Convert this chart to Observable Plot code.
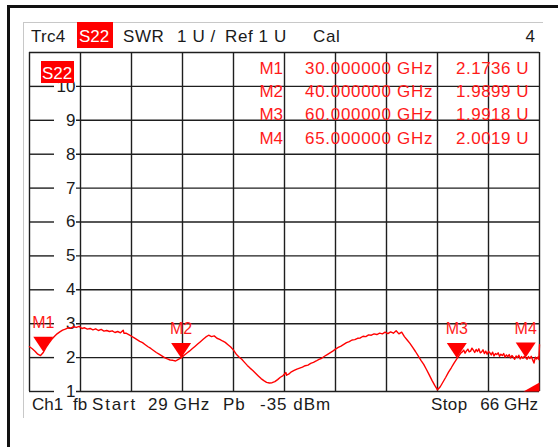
<!DOCTYPE html>
<html>
<head>
<meta charset="utf-8">
<script src="https://cdn.jsdelivr.net/npm/d3@7"></script>
<script src="https://cdn.jsdelivr.net/npm/@observablehq/plot@0.6"></script>
<style>
  html, body { margin: 0; padding: 0; background: #fff; }
  #wrap { position: relative; width: 558px; height: 447px; overflow: hidden; background: #fff;
          font-family: "Liberation Sans", Arial, sans-serif; }
  #wrap svg { position: absolute; left: 0; top: 0; }
  .t { position: absolute; white-space: pre; line-height: 1; font-size: 17px; color: #1a1a1a; }
  .red { color: #ff1a1a; }
  .box { position: absolute; background: #ff0000; }
  .ln { position: absolute; }
</style>
</head>
<body>
<div id="wrap"></div>
<script>
// ---- data ----
const freq = [29.0,29.2,29.4,29.6,29.8,30.0,30.2,30.4,30.6,30.8,31.0,31.2,31.4,31.6,31.8,32.0,32.2,32.4,32.6,32.8,
  33.0,33.2,33.4,33.6,33.8,34.0,34.2,34.4,34.6,34.8,35.0,35.2,35.4,35.6,35.8,35.85,36.0,36.2,36.4,36.6,36.8,
  37.0,37.2,37.4,37.6,37.8,38.0,38.2,38.4,38.6,38.8,39.0,39.2,39.4,39.6,39.8,40.0,40.2,40.4,40.6,40.8,
  41.0,41.2,41.4,41.6,41.8,42.0,42.2,42.4,42.6,42.8,43.0,43.2,43.4,43.6,43.8,44.0,44.2,44.4,44.6,44.8,
  45.0,45.2,45.4,45.6,45.8,46.0,46.2,46.4,46.6,46.8,47.0,47.2,47.4,47.6,47.65,47.8,48.0,48.2,48.4,48.6,48.8,
  49.0,49.2,49.4,49.6,49.8,50.0,50.2,50.4,50.6,50.8,51.0,51.2,51.4,51.6,51.8,52.0,52.2,52.4,52.6,52.8,
  53.0,53.2,53.4,53.6,53.8,54.0,54.2,54.4,54.6,54.8,55.0,55.2,55.4,55.6,55.8,56.0,56.2,56.4,56.6,56.8,
  57.0,57.2,57.4,57.6,57.8,58.0,58.2,58.4,58.6,58.8,59.0,59.2,59.4,59.6,59.8,
  60.0,60.1,60.2,60.3,60.4,60.5,60.6,60.7,60.8,60.9,61.0,61.1,61.2,61.3,61.4,61.5,61.6,61.7,61.8,61.9,
  62.0,62.1,62.2,62.3,62.4,62.5,62.6,62.7,62.8,62.9,63.0,63.1,63.2,63.3,63.4,63.5,63.6,63.7,63.8,63.9,
  64.0,64.1,64.2,64.3,64.4,64.5,64.6,64.7,64.8,64.9,65.0,65.1,65.2,65.3,65.4,65.5,65.6,65.7,65.8,65.9,
  65.95,66.0];
const swr = [2.32,2.26,2.19,2.10,2.06,2.15,2.30,2.42,2.53,2.62,2.70,2.76,2.81,2.84,2.88,2.87,2.91,2.89,2.92,2.86,
  2.88,2.84,2.86,2.82,2.85,2.80,2.83,2.78,2.80,2.77,2.79,2.74,2.77,2.73,2.81,2.72,2.72,2.68,2.63,2.58,2.53,
  2.48,2.44,2.38,2.32,2.27,2.21,2.15,2.10,2.05,2.00,1.96,1.93,1.92,1.90,1.95,1.99,2.06,2.13,2.19,2.26,
  2.33,2.40,2.47,2.54,2.61,2.66,2.62,2.64,2.57,2.54,2.49,2.45,2.38,2.31,2.22,2.10,2.02,1.95,1.86,1.77,
  1.69,1.62,1.54,1.46,1.38,1.32,1.27,1.25,1.26,1.29,1.35,1.42,1.47,1.56,1.48,1.51,1.58,1.62,1.66,1.69,1.72,
  1.76,1.78,1.83,1.86,1.90,1.95,1.98,2.04,2.09,2.14,2.19,2.25,2.30,2.34,2.39,2.44,2.47,2.52,2.53,2.57,
  2.58,2.63,2.62,2.67,2.66,2.70,2.68,2.72,2.70,2.75,2.71,2.76,2.72,2.79,2.70,2.75,2.62,2.52,2.42,2.30,
  2.18,2.05,1.92,1.80,1.65,1.49,1.33,1.18,1.05,1.14,1.28,1.42,1.57,1.70,1.84,
  1.96,2.02,2.08,2.14,2.17,2.22,2.13,2.20,2.25,2.17,2.19,2.28,2.22,2.15,2.24,2.18,2.26,2.14,2.17,2.23,
  2.12,2.19,2.10,2.18,2.14,2.08,2.16,2.05,2.12,2.09,2.14,2.04,2.10,2.06,2.12,2.01,2.08,2.03,2.09,1.99,
  2.06,2.01,1.95,2.05,2.00,2.07,1.96,2.03,1.98,2.04,2.00,1.95,2.03,1.97,2.04,1.94,1.84,2.01,1.96,2.02,
  1.94,2.38];

const markerNames = ["M1","M2","M3","M4"];
const markerFreq  = [30, 40, 60, 65];
const markerSwr   = [2.1736, 1.9899, 1.9918, 2.0019];

const yTickValues = [1,2,3,4,5,6,7,8,9,10];
const yTickLabels = ["1","2","3","4","5","6","7","8","9","10"];

const startGHz = 29, stopGHz = 66, refMin = 1, refMax = 11;

// ---- build ----
const trace = freq.map((f, i) => ({f, v: swr[i]}));
const markers = markerNames.map((n, i) => ({n, f: markerFreq[i], v: markerSwr[i]}));
const ticks = yTickValues.map((v, i) => ({v, label: yTickLabels[i]}));
const xGrid = d3.range(0, 11).map(i => startGHz + i * (stopGHz - startGHz) / 10);

const W = 558, H = 447, mL = 29, mR = 19, mT = 52, mB = 56;
const innerW = W - mL - mR;
const pxToGHz = px => startGHz + (px / innerW) * (stopGHz - startGHz);
const gapStart = pxToGHz(25), gapEnd = pxToGHz(47);

const hSeg = [];
for (const t of ticks) {
  hSeg.push({v: t.v, x1: startGHz, x2: gapStart});
  hSeg.push({v: t.v, x1: gapEnd, x2: stopGHz});
}

const downTri = { draw(ctx) { ctx.moveTo(0, 0); ctx.lineTo(-10, -15); ctx.lineTo(10, -15); ctx.closePath(); } };
const cornerTri = { draw(ctx) { ctx.moveTo(0, 0); ctx.lineTo(-16, 0); ctx.lineTo(0, -9); ctx.closePath(); } };

const gridColor = "#1e1e1e";
const chart = Plot.plot({
  width: W, height: H,
  marginLeft: mL, marginRight: mR, marginTop: mT, marginBottom: mB,
  x: {domain: [startGHz, stopGHz], axis: null},
  y: {domain: [refMin, refMax], axis: null},
  style: {background: "transparent", fontFamily: "Liberation Sans, Arial, sans-serif"},
  marks: [
    Plot.ruleX(xGrid, {stroke: gridColor, strokeWidth: 1.4}),
    Plot.ruleY([refMax], {stroke: gridColor, strokeWidth: 1.4}),
    Plot.ruleY(hSeg, {y: "v", x1: "x1", x2: "x2", stroke: gridColor, strokeWidth: 1.4}),
    Plot.text(ticks, {y: "v", text: "label", frameAnchor: "left", dx: 46, textAnchor: "end",
      fontSize: 17, fill: "#1a1a1a", lineAnchor: "middle"}),
    Plot.line(trace, {x: "f", y: "v", stroke: "#ff0000", strokeWidth: 1.4}),
    Plot.dot(markers, {x: "f", y: "v", symbol: downTri, fill: "#ff0000", stroke: null}),
    Plot.text(markers, {x: "f", y: "v", text: "n", dy: -29, fill: "#ff1a1a", fontSize: 16, lineAnchor: "middle"}),
    Plot.dot([{f: stopGHz, v: refMin}], {x: "f", y: "v", symbol: cornerTri, fill: "#ff0000", stroke: null})
  ]
});

const wrap = document.getElementById("wrap");
wrap.appendChild(chart);

function line(x, y, w, h, color) {
  const d = document.createElement("div");
  d.className = "ln";
  Object.assign(d.style, {left: x + "px", top: y + "px", width: w + "px", height: h + "px", background: color});
  wrap.appendChild(d);
}
function text(str, x, baseline, opts = {}) {
  const s = document.createElement("div");
  const fs = opts.fs || 17;
  s.className = "t" + (opts.red ? " red" : "");
  s.textContent = str;
  s.style.fontSize = fs + "px";
  s.style.top = (baseline - 0.845 * fs) + "px";
  if (opts.ls) s.style.letterSpacing = opts.ls + "px";
  if (opts.color) s.style.color = opts.color;
  if (opts.right != null) s.style.right = (W - opts.right) + "px"; else s.style.left = x + "px";
  wrap.appendChild(s);
  return s;
}

// outer frame
line(7, 5, 551, 3, "#111");
line(7, 5, 3, 442, "#111");
line(23, 22, 520, 1, "#c8c8c8");
line(23, 22, 1, 396, "#c8c8c8");

// header
text("Trc4", 31, 42, {ls: 0.3});
const hb = document.createElement("div"); hb.className = "box";
Object.assign(hb.style, {left: "77px", top: "22px", width: "36px", height: "26px"}); wrap.appendChild(hb);
text("S22", 79, 42, {color: "#fff"});
text("SWR", 123, 42, {ls: 0.6});
text("1 U /", 177, 42, {ls: 0.6});
text("Ref 1 U", 225, 42, {ls: 0.6});
text("Cal", 313, 42, {ls: 0.6});
text("4", 0, 42, {right: 535});

// S22 trace label box
const sb = document.createElement("div"); sb.className = "box";
Object.assign(sb.style, {left: "41px", top: "61px", width: "33px", height: "22px"}); wrap.appendChild(sb);
text("S22", 42, 79, {color: "#fff"});

// marker table
const rowBase = [74, 97, 120, 144];
markers.forEach((m, i) => {
  text(m.n, 0, rowBase[i], {red: true, right: 283});
  text(m.f.toFixed(6) + " GHz", 305, rowBase[i], {red: true, ls: 0.7});
  text(m.v.toFixed(4) + " U", 0, rowBase[i], {red: true, right: 529, ls: 0.5});
});

// footer
text("Ch1", 32, 410);
text("fb", 73, 410);
text("Start", 92, 410, {ls: 1.8});
text(startGHz + " GHz", 148, 410, {ls: 0.7});
text("Pb", 223, 410, {ls: 0.8});
text("-35 dBm", 260, 410, {ls: 1.0});
text("Stop", 431, 410, {ls: 0.4});
text(stopGHz + " GHz", 0, 410, {right: 538});
</script>
</body>
</html>
